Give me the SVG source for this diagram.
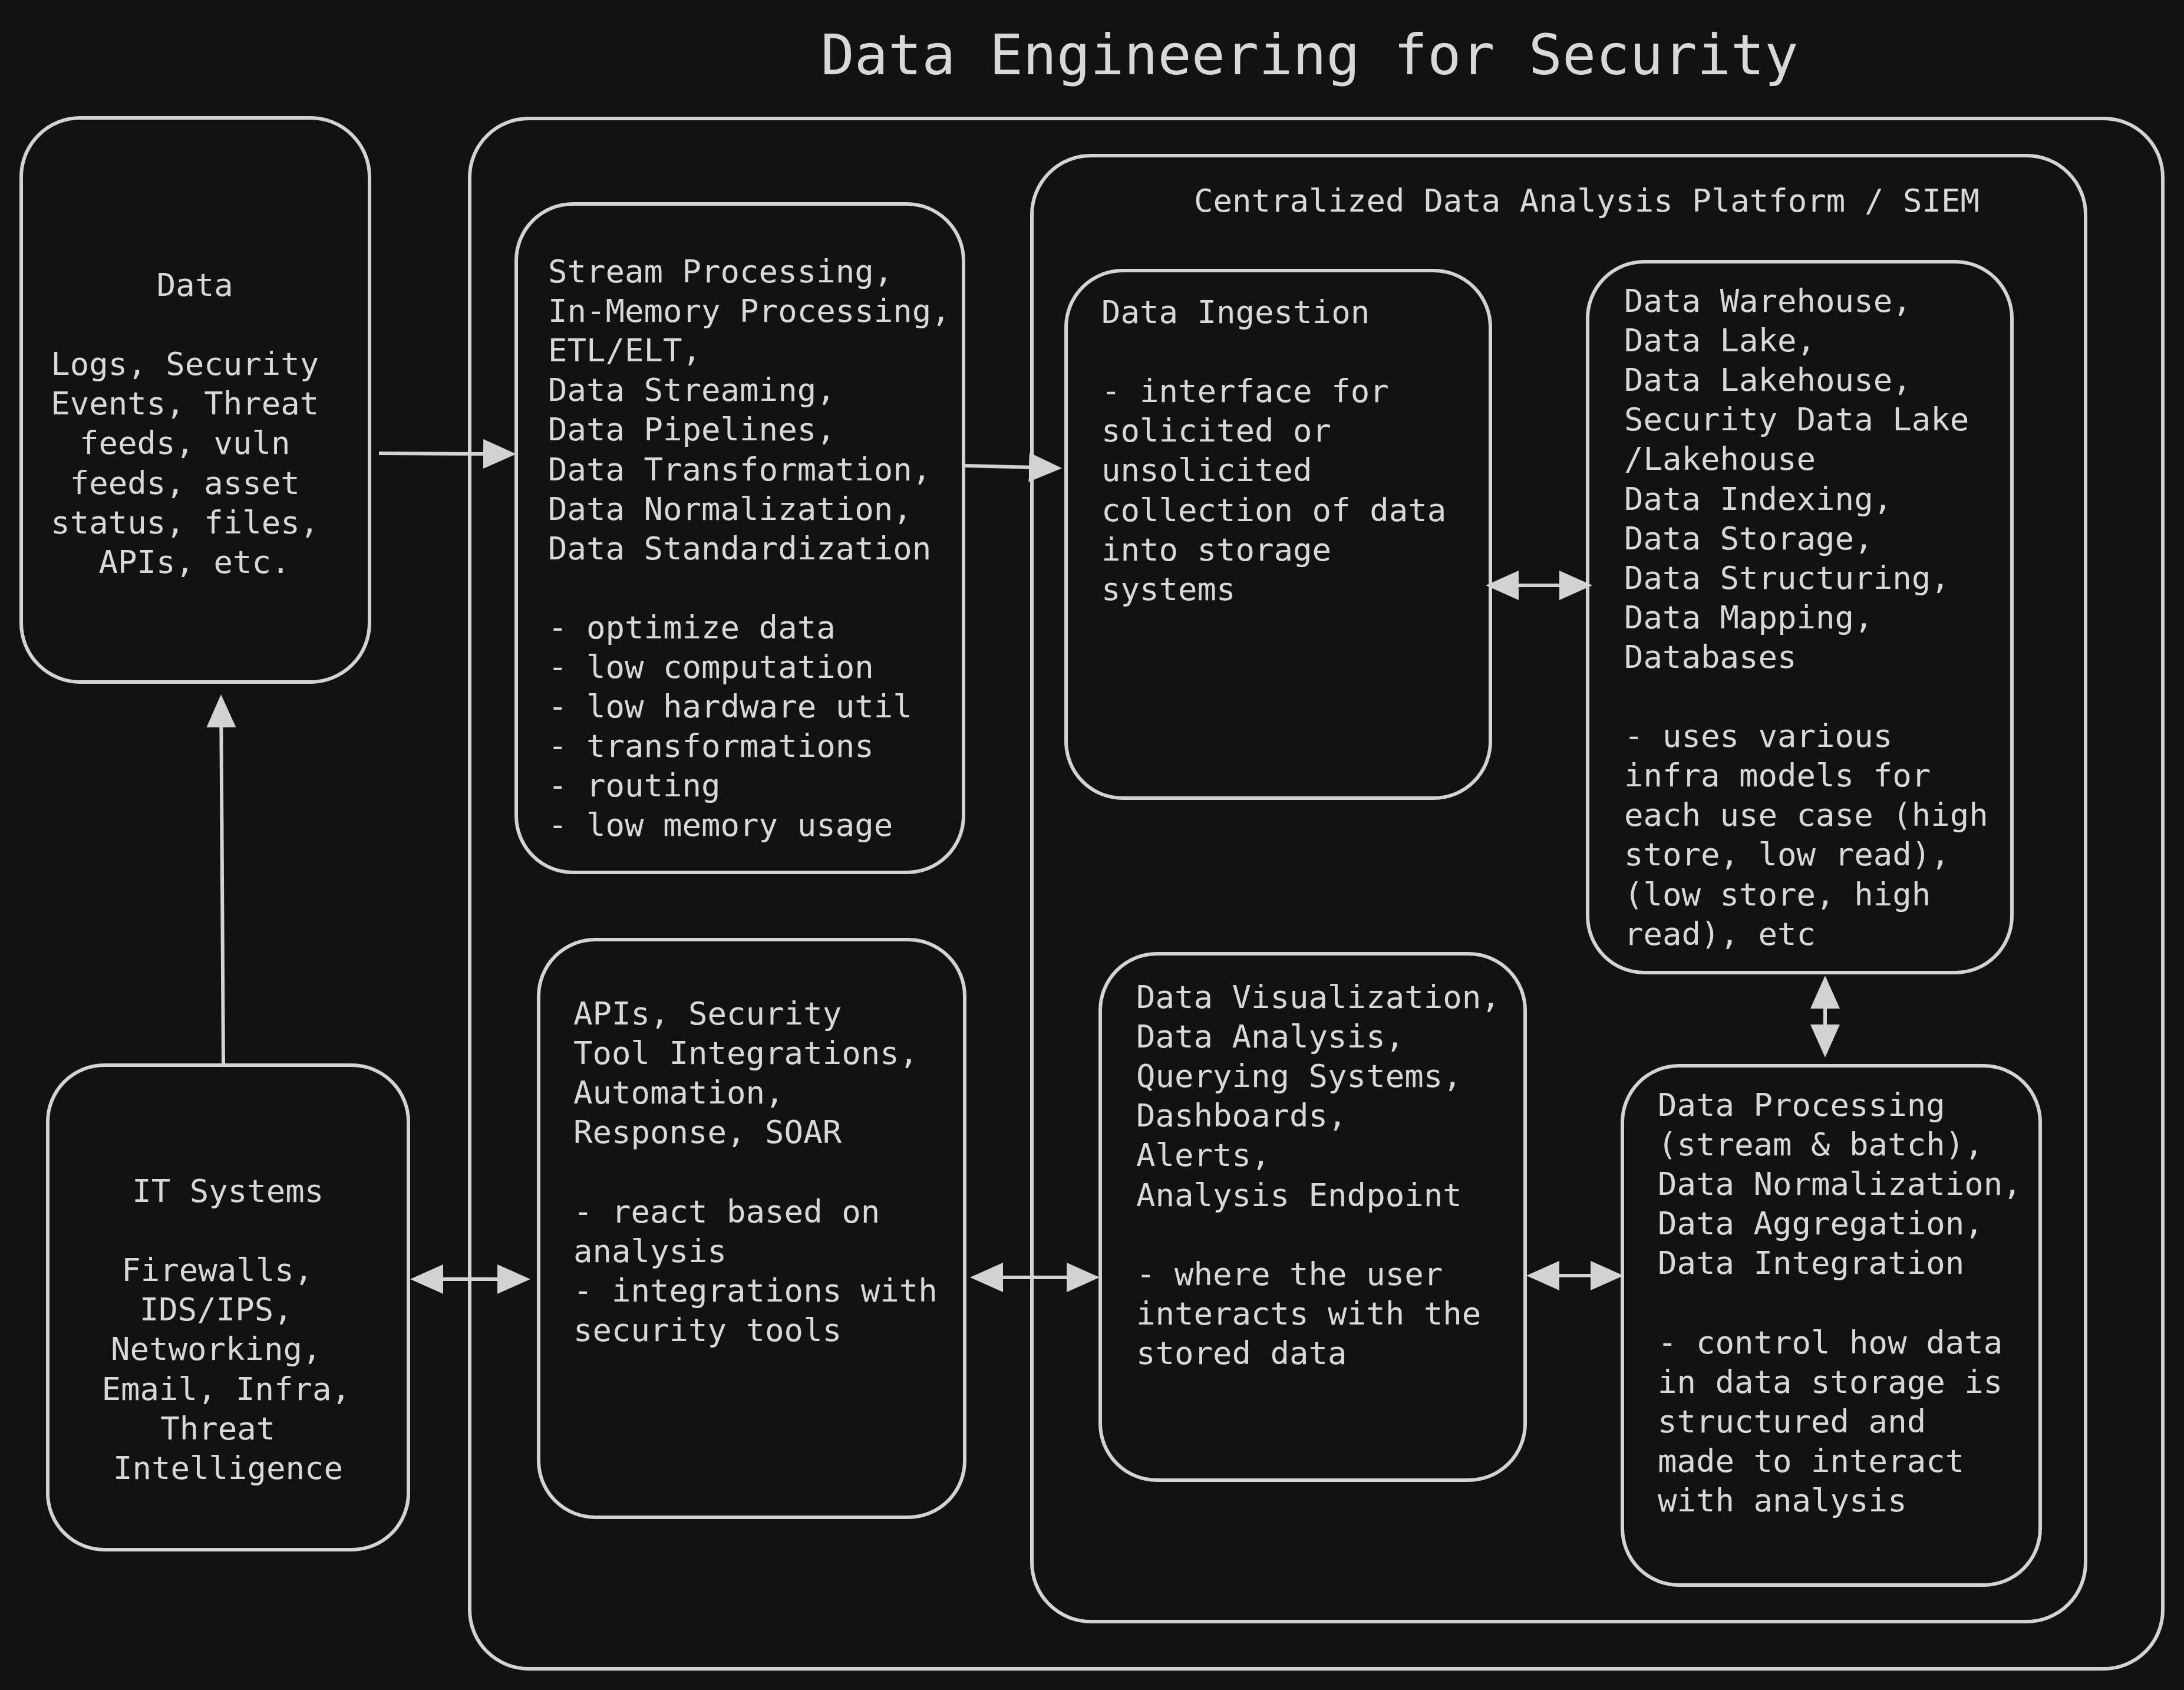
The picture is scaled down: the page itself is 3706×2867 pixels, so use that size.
<svg xmlns="http://www.w3.org/2000/svg" width="3706" height="2867" viewBox="0 0 3706 2867">
<style>
.bg{fill:#121212}
.box{fill:none;stroke:#d3d3d3;stroke-width:6}
.t{font-family:"DejaVu Sans Mono","Liberation Mono",monospace;font-size:54px;fill:#d8d8d8}
.c{text-anchor:middle}
.title{font-family:"DejaVu Sans Mono","Liberation Mono",monospace;font-size:95px;fill:#d8d8d8;text-anchor:middle}
.edge{fill:none;stroke:#d3d3d3;stroke-width:6}
</style>
<defs>
<marker id="ah" markerUnits="userSpaceOnUse" viewBox="0 0 56 50" markerWidth="56" markerHeight="50" refX="10" refY="25" orient="auto-start-reverse">
<path d="M0,0 L56,25 L0,50 Z" fill="#d3d3d3"/>
</marker>
</defs>
<rect class="bg" x="0" y="0" width="3706" height="2867"/>
<text class="title" x="2222" y="126">Data Engineering for Security</text>

<g id="security-pipeline">
<rect class="box" x="797" y="201" width="2873" height="2630" rx="100" ry="100"/>
</g>

<g id="siem-platform">
<rect class="box" x="1751" y="264" width="1788" height="2487" rx="100" ry="100"/>
<text class="t" x="2026" y="359">Centralized Data Analysis Platform / SIEM</text>
</g>

<g id="data">
<rect class="box" x="36" y="200" width="591" height="957" rx="100" ry="100"/>
<text class="t c">
<tspan x="347" y="502">Data</tspan>
<tspan x="330" y="636.2">Logs, Security</tspan>
<tspan x="330" y="703.3">Events, Threat</tspan>
<tspan x="330" y="770.4">feeds, vuln</tspan>
<tspan x="330" y="837.5">feeds, asset</tspan>
<tspan x="330" y="904.6">status, files,</tspan>
<tspan x="330" y="971.7">APIs, etc.</tspan>
</text>
</g>

<g id="stream-processing">
<rect class="box" x="876" y="346" width="759" height="1134" rx="96" ry="96"/>
<text class="t">
<tspan x="930" y="479">Stream Processing,</tspan>
<tspan x="930" y="546.1">In-Memory Processing,</tspan>
<tspan x="930" y="613.2">ETL/ELT,</tspan>
<tspan x="930" y="680.3">Data Streaming,</tspan>
<tspan x="930" y="747.4">Data Pipelines,</tspan>
<tspan x="930" y="814.5">Data Transformation,</tspan>
<tspan x="930" y="881.6">Data Normalization,</tspan>
<tspan x="930" y="948.7">Data Standardization</tspan>
<tspan x="930" y="1082.9">- optimize data</tspan>
<tspan x="930" y="1150">- low computation</tspan>
<tspan x="930" y="1217.1">- low hardware util</tspan>
<tspan x="930" y="1284.2">- transformations</tspan>
<tspan x="930" y="1351.3">- routing</tspan>
<tspan x="930" y="1418.4">- low memory usage</tspan>
</text>
</g>

<g id="data-ingestion">
<rect class="box" x="1809" y="459" width="720" height="895" rx="96" ry="96"/>
<text class="t">
<tspan x="1869" y="548">Data Ingestion</tspan>
<tspan x="1869" y="682.2">- interface for</tspan>
<tspan x="1869" y="749.3">solicited or</tspan>
<tspan x="1869" y="816.4">unsolicited</tspan>
<tspan x="1869" y="883.5">collection of data</tspan>
<tspan x="1869" y="950.6">into storage</tspan>
<tspan x="1869" y="1017.7">systems</tspan>
</text>
</g>

<g id="data-storage">
<rect class="box" x="2694" y="444" width="720" height="1206" rx="96" ry="96"/>
<text class="t">
<tspan x="2756" y="529">Data Warehouse,</tspan>
<tspan x="2756" y="596.1">Data Lake,</tspan>
<tspan x="2756" y="663.2">Data Lakehouse,</tspan>
<tspan x="2756" y="730.3">Security Data Lake</tspan>
<tspan x="2756" y="797.4">/Lakehouse</tspan>
<tspan x="2756" y="864.5">Data Indexing,</tspan>
<tspan x="2756" y="931.6">Data Storage,</tspan>
<tspan x="2756" y="998.7">Data Structuring,</tspan>
<tspan x="2756" y="1065.8">Data Mapping,</tspan>
<tspan x="2756" y="1132.9">Databases</tspan>
<tspan x="2756" y="1267.1">- uses various</tspan>
<tspan x="2756" y="1334.2">infra models for</tspan>
<tspan x="2756" y="1401.3">each use case (high</tspan>
<tspan x="2756" y="1468.4">store, low read),</tspan>
<tspan x="2756" y="1535.5">(low store, high</tspan>
<tspan x="2756" y="1602.6">read), etc</tspan>
</text>
</g>

<g id="data-visualization">
<rect class="box" x="1867" y="1618" width="721" height="893" rx="96" ry="96"/>
<text class="t">
<tspan x="1928" y="1710">Data Visualization,</tspan>
<tspan x="1928" y="1777.1">Data Analysis,</tspan>
<tspan x="1928" y="1844.2">Querying Systems,</tspan>
<tspan x="1928" y="1911.3">Dashboards,</tspan>
<tspan x="1928" y="1978.4">Alerts,</tspan>
<tspan x="1928" y="2045.5">Analysis Endpoint</tspan>
<tspan x="1928" y="2179.7">- where the user</tspan>
<tspan x="1928" y="2246.8">interacts with the</tspan>
<tspan x="1928" y="2313.9">stored data</tspan>
</text>
</g>

<g id="data-processing">
<rect class="box" x="2753" y="1808" width="709" height="881" rx="96" ry="96"/>
<text class="t">
<tspan x="2813" y="1893">Data Processing</tspan>
<tspan x="2813" y="1960.1">(stream &amp; batch),</tspan>
<tspan x="2813" y="2027.2">Data Normalization,</tspan>
<tspan x="2813" y="2094.3">Data Aggregation,</tspan>
<tspan x="2813" y="2161.4">Data Integration</tspan>
<tspan x="2813" y="2295.6">- control how data</tspan>
<tspan x="2813" y="2362.7">in data storage is</tspan>
<tspan x="2813" y="2429.8">structured and</tspan>
<tspan x="2813" y="2496.9">made to interact</tspan>
<tspan x="2813" y="2564">with analysis</tspan>
</text>
</g>

<g id="apis-soar">
<rect class="box" x="914" y="1594" width="723" height="980" rx="96" ry="96"/>
<text class="t">
<tspan x="973" y="1738">APIs, Security</tspan>
<tspan x="973" y="1805.1">Tool Integrations,</tspan>
<tspan x="973" y="1872.2">Automation,</tspan>
<tspan x="973" y="1939.3">Response, SOAR</tspan>
<tspan x="973" y="2073.5">- react based on</tspan>
<tspan x="973" y="2140.6">analysis</tspan>
<tspan x="973" y="2207.7">- integrations with</tspan>
<tspan x="973" y="2274.8">security tools</tspan>
</text>
</g>

<g id="it-systems">
<rect class="box" x="81" y="1807" width="612" height="822" rx="96" ry="96"/>
<text class="t c">
<tspan x="403" y="2039">IT Systems</tspan>
<tspan x="385" y="2173.2">Firewalls,</tspan>
<tspan x="383" y="2240.3">IDS/IPS,</tspan>
<tspan x="383" y="2307.4">Networking,</tspan>
<tspan x="400" y="2374.5">Email, Infra,</tspan>
<tspan x="386" y="2441.6">Threat</tspan>
<tspan x="387" y="2508.7">Intelligence</tspan>
</text>
</g>

<g id="connectors">
<path class="edge" d="M643,769 L830,770" marker-end="url(#ah)"/>
<path class="edge" d="M1637,790 L1756,793" marker-end="url(#ah)"/>
<path class="edge" d="M2567,993 L2656,993" marker-start="url(#ah)" marker-end="url(#ah)"/>
<path class="edge" d="M3097,1701 L3097,1748" marker-start="url(#ah)" marker-end="url(#ah)"/>
<path class="edge" d="M2636,2164 L2709,2164" marker-start="url(#ah)" marker-end="url(#ah)"/>
<path class="edge" d="M1692,2167 L1820,2167" marker-start="url(#ah)" marker-end="url(#ah)"/>
<path class="edge" d="M742,2170 L854,2170" marker-start="url(#ah)" marker-end="url(#ah)"/>
<path class="edge" d="M379,1807 L375.3,1224" marker-end="url(#ah)"/>
</g>
</svg>
